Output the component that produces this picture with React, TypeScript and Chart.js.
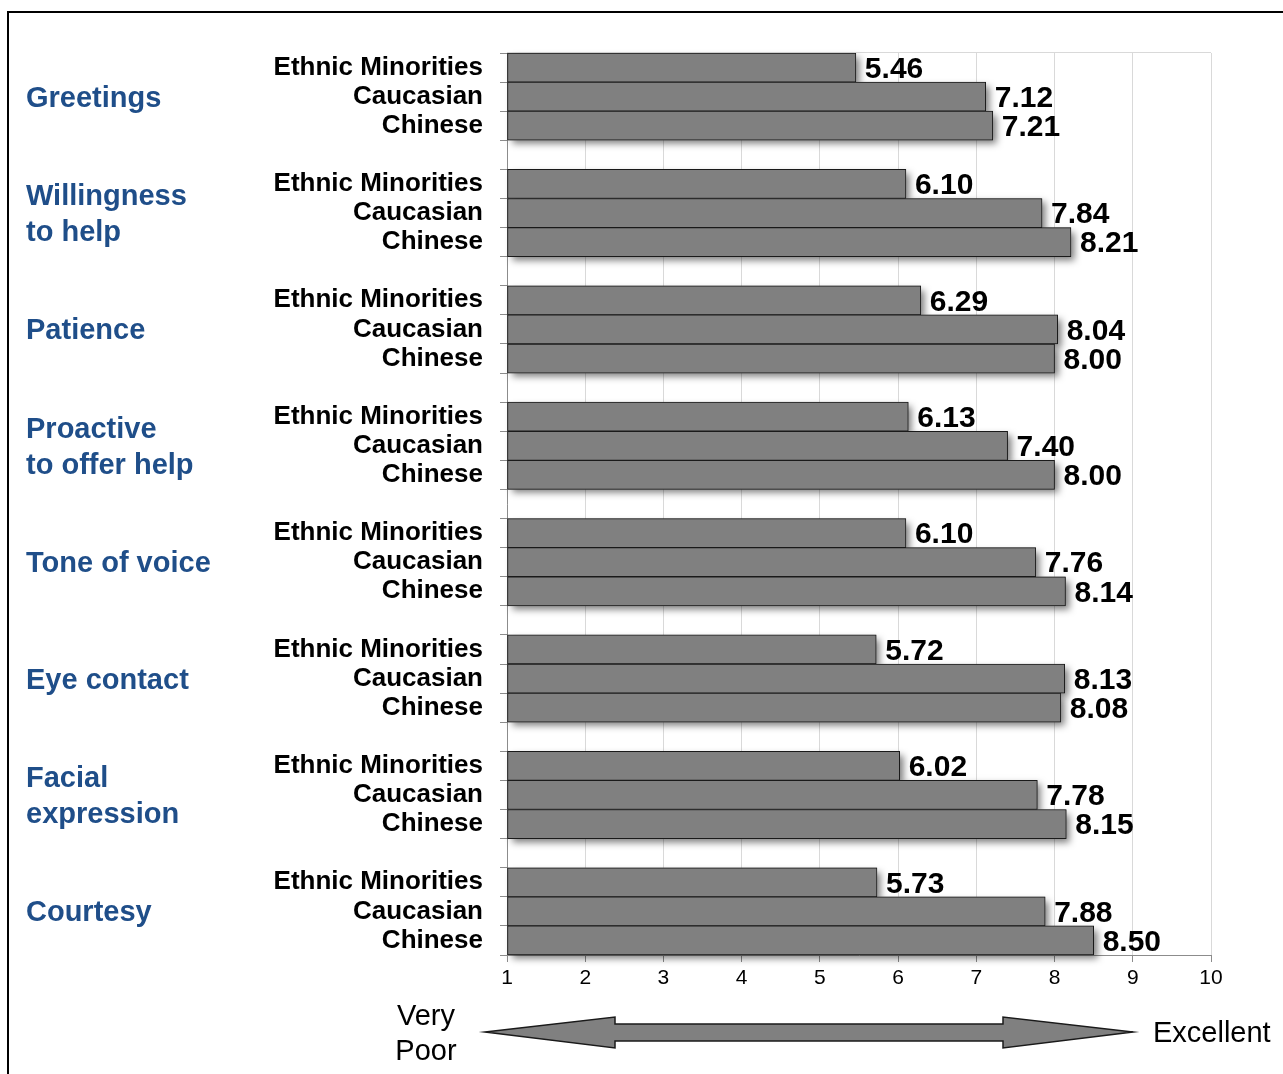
import React, { useEffect, useRef } from "react";
import { Chart, registerables } from "chart.js";

Chart.register(...registerables);

// ---- data ----
const groupLabels: string[][] = [
  ["Greetings"],
  ["Willingness", "to help"],
  ["Patience"],
  ["Proactive", "to offer help"],
  ["Tone of voice"],
  ["Eye contact"],
  ["Facial", "expression"],
  ["Courtesy"],
];
const seriesNames = ["Ethnic Minorities", "Caucasian", "Chinese"];
const ethnicMinorities = [5.46, 6.1, 6.29, 6.13, 6.1, 5.72, 6.02, 5.73];
const caucasian = [7.12, 7.84, 8.04, 7.4, 7.76, 8.13, 7.78, 7.88];
const chinese = [7.21, 8.21, 8.0, 8.0, 8.14, 8.08, 8.15, 8.5];
const xTickValues = [1, 2, 3, 4, 5, 6, 7, 8, 9, 10];
const scaleMin = 1;
const scaleMax = 10;
const lowLabel = ["Very", "Poor"];
const highLabel = "Excellent";

const W = 1283;
const H = 1074;
const BLUE = "#1F4E89";

// build 31 slots: 3 bars per group, 1 empty slot between groups
const slotLabels: string[] = [];
const slotValues: (number | null)[] = [];
groupLabels.forEach((_, g) => {
  const vals = [ethnicMinorities[g], caucasian[g], chinese[g]];
  seriesNames.forEach((s, i) => {
    slotLabels.push(s);
    slotValues.push(vals[i]);
  });
  if (g < groupLabels.length - 1) {
    slotLabels.push("");
    slotValues.push(null);
  }
});

export default function App() {
  const ref = useRef<HTMLCanvasElement | null>(null);

  useEffect(() => {
    if (!ref.current) return;

    const decorPlugin = {
      id: "decor",
      beforeDatasetsDraw(chart: any) {
        const { ctx, chartArea } = chart;
        ctx.save();
        ctx.strokeStyle = "#d9d9d9";
        ctx.lineWidth = 1;
        ctx.beginPath();
        ctx.moveTo(chartArea.left, Math.round(chartArea.top) - 0.5);
        ctx.lineTo(chartArea.right, Math.round(chartArea.top) - 0.5);
        ctx.stroke();
        // drop shadows under bars
        const meta = chart.getDatasetMeta(0);
        ctx.shadowColor = "rgba(0,0,0,0.5)";
        ctx.shadowBlur = 7;
        ctx.shadowOffsetX = 4;
        ctx.shadowOffsetY = 4;
        ctx.fillStyle = "#808080";
        meta.data.forEach((el: any, i: number) => {
          if (slotValues[i] == null) return;
          const p = el.getProps(["x", "y", "base", "height"], true);
          const left = Math.min(p.x, p.base);
          const w = Math.abs(p.x - p.base);
          ctx.fillRect(left, p.y - p.height / 2, w, p.height);
        });
        ctx.restore();
      },
      afterDraw(chart: any) {
        const { ctx } = chart;
        const yScale = chart.scales.y;
        const meta = chart.getDatasetMeta(0);
        ctx.save();
        // value labels
        ctx.font = "bold 30px 'Liberation Sans', Arial, sans-serif";
        ctx.fillStyle = "#000";
        ctx.textBaseline = "middle";
        ctx.textAlign = "left";
        meta.data.forEach((el: any, i: number) => {
          const v = slotValues[i];
          if (v == null) return;
          ctx.fillText(v.toFixed(2), el.x + 9, el.y + 2);
        });
        // group labels
        ctx.font = "bold 29px 'Liberation Sans', Arial, sans-serif";
        ctx.fillStyle = BLUE;
        groupLabels.forEach((lines, g) => {
          const cy = yScale.getPixelForValue(g * 4 + 1) + 2;
          const lh = 36;
          lines.forEach((ln, k) => {
            const y = cy + (k - (lines.length - 1) / 2) * lh;
            ctx.fillText(ln, 26, y);
          });
        });
        // arrow
        const ay = 1032;
        ctx.beginPath();
        ctx.moveTo(485, ay);
        ctx.lineTo(615, ay - 15);
        ctx.lineTo(615, ay - 8);
        ctx.lineTo(1003, ay - 8);
        ctx.lineTo(1003, ay - 15);
        ctx.lineTo(1133, ay);
        ctx.lineTo(1003, ay + 16);
        ctx.lineTo(1003, ay + 9);
        ctx.lineTo(615, ay + 9);
        ctx.lineTo(615, ay + 16);
        ctx.closePath();
        ctx.fillStyle = "#808080";
        ctx.fill();
        ctx.strokeStyle = "#1a1a1a";
        ctx.lineWidth = 1.5;
        ctx.stroke();
        // end labels
        ctx.fillStyle = "#000";
        ctx.font = "29px 'Liberation Sans', Arial, sans-serif";
        ctx.textAlign = "center";
        ctx.fillText(lowLabel[0], 426, 1017);
        ctx.fillText(lowLabel[1], 426, 1052);
        ctx.textAlign = "left";
        ctx.fillText(highLabel, 1153, 1034);
        // frame
        ctx.strokeStyle = "#000";
        ctx.lineWidth = 2;
        ctx.beginPath();
        ctx.moveTo(8, H);
        ctx.lineTo(8, 12);
        ctx.lineTo(W, 12);
        ctx.stroke();
        ctx.restore();
      },
    };

    const chart = new Chart(ref.current, {
      type: "bar",
      data: {
        labels: slotLabels,
        datasets: [
          {
            data: slotValues as any,
            base: scaleMin,
            backgroundColor: "#808080",
            borderColor: "#1a1a1a",
            borderWidth: 1,
            borderSkipped: false,
            barPercentage: 1,
            categoryPercentage: 1,
          } as any,
        ],
      },
      options: {
        indexAxis: "y",
        responsive: false,
        animation: false,
        layout: { padding: { top: 53, right: 72, left: 0, bottom: 0 } },
        plugins: {
          legend: { display: false },
          tooltip: { enabled: false },
        },
        scales: {
          x: {
            type: "linear",
            min: scaleMin,
            max: scaleMax,
            afterFit(scale: any) {
              scale.height = H - 955;
            },
            afterBuildTicks(scale: any) {
              scale.ticks = xTickValues.map((v) => ({ value: v }));
            },
            ticks: {
              font: { family: "'Liberation Sans Narrow', 'Liberation Sans', Arial", size: 21 },
              color: "#000",
              padding: 4,
            },
            grid: {
              color: "#d9d9d9",
              tickColor: "#8c8c8c",
              tickLength: 7,
            },
            border: { color: "#8c8c8c", width: 1 },
          },
          y: {
            type: "category",
            afterFit(scale: any) {
              scale.width = 507;
            },
            ticks: {
              autoSkip: false,
              font: { family: "'Liberation Sans', Arial", size: 26, weight: "bold" },
              color: "#000",
              padding: 17,
            },
            grid: {
              offset: true,
              drawOnChartArea: false,
              drawTicks: true,
              tickLength: 7,
              color: "#8c8c8c",
            },
            border: { color: "#8c8c8c", width: 1 },
          },
        },
      } as any,
      plugins: [decorPlugin],
    });

    return () => chart.destroy();
  }, []);

  return (
    <div style={{ position: "fixed", left: 0, top: 0, width: W, height: H, background: "#fff" }}>
      <canvas ref={ref} width={W} height={H} style={{ width: W, height: H, display: "block" }} />
    </div>
  );
}
